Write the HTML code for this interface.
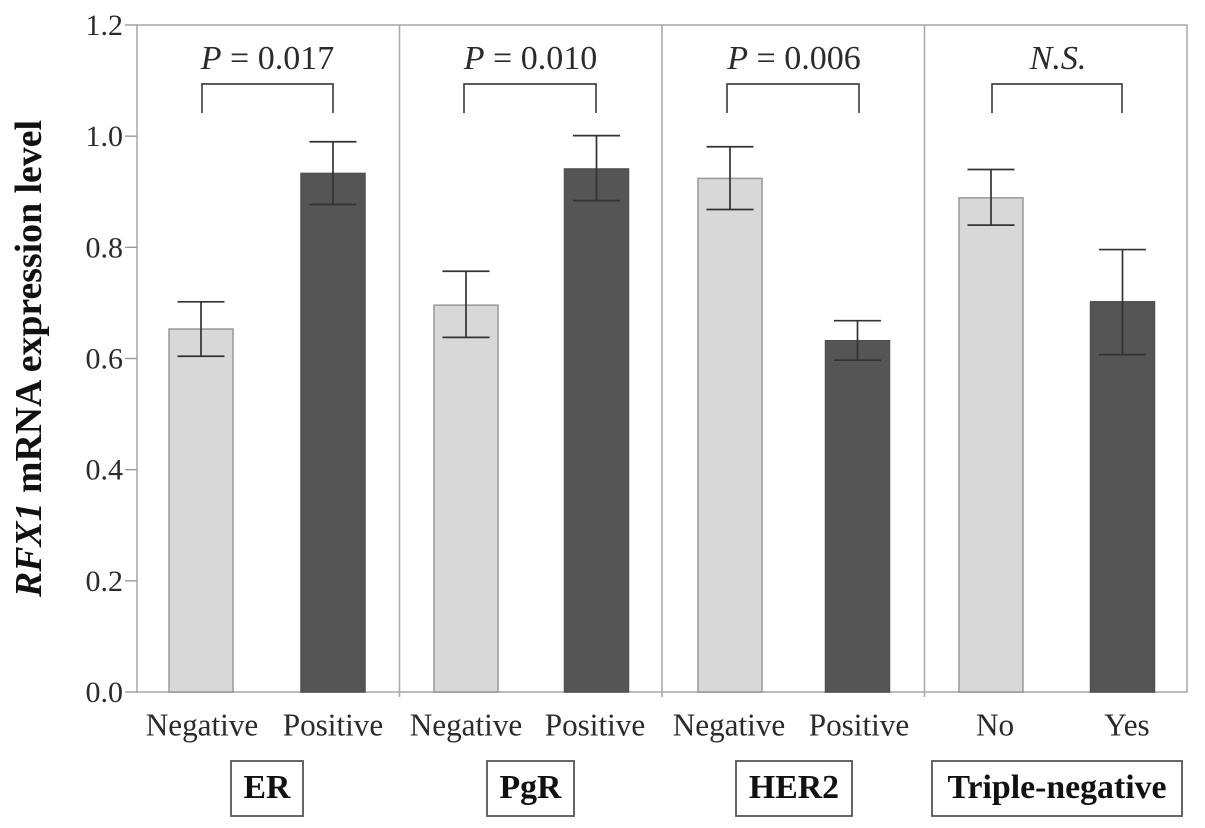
<!DOCTYPE html>
<html>
<head>
<meta charset="utf-8">
<title>RFX1 mRNA expression level</title>
<style>
html,body{margin:0;padding:0;background:#fff}
svg{display:block}
text{font-family:"Liberation Serif",serif;fill:#2b2b2b}
</style>
</head>
<body>
<svg id="chart" width="1205" height="828" viewBox="0 0 1205 828" xmlns="http://www.w3.org/2000/svg">
  <text style="fill:#111" transform="translate(41 358.5) rotate(-90)" text-anchor="middle" font-size="37.8" font-weight="bold"><tspan font-style="italic">RFX1</tspan> mRNA expression level</text>
</svg>
<script>
const categories = ['Negative','Positive','Negative','Positive','Negative','Positive','No','Yes'];
const means = [0.653,0.933,0.696,0.941,0.924,0.632,0.889,0.702];
const errLow = [0.604,0.877,0.638,0.884,0.868,0.597,0.840,0.607];
const errHigh = [0.702,0.990,0.757,1.001,0.981,0.668,0.940,0.796];
const barKinds = ['light','dark','light','dark','light','dark','light','dark'];
const yTicks = ['0.0','0.2','0.4','0.6','0.8','1.0','1.2'];
const groupNames = ['ER','PgR','HER2','Triple-negative'];
const groupPValues = ['0.017','0.010','0.006',null];

const NS = 'http://www.w3.org/2000/svg';
const svg = document.getElementById('chart');
const plot = {left:137, right:1187, top:25, bottom:692};
const yMax = 1.2;
const groupWidth = (plot.right - plot.left) / groupNames.length;
const barWidth = 64;
const capHalf = 23.5;
// layout within each group (offsets from the group's left edge, hand-placed in the source figure)
const layoutFor = [
  {bars:[64,196],     labels:[65,196],     bracket:[65,196],     sig:130.5, box:[94,166]},
  {bars:[66.5,197],   labels:[66.5,195.5], bracket:[64.5,196.5], sig:131,   box:[87.5,174.5]},
  {bars:[68,195.5],   labels:[67,197],     bracket:[65,197],     sig:132,   box:[74,190]},
  {bars:[66.5,198],   labels:[70.5,202.5], bracket:[67.5,197.5], sig:133.5, box:[7.5,257.5]}
];

function y(v){ return plot.bottom - (v / yMax) * (plot.bottom - plot.top); }
function groupLeft(g){ return plot.left + g * groupWidth; }
function x(i){
  const g = Math.floor(i / 2);
  return groupLeft(g) + layoutFor[g].bars[i % 2];
}
function labelX(i){
  const g = Math.floor(i / 2);
  return groupLeft(g) + layoutFor[g].labels[i % 2];
}
function mk(tag, attrs, txt){
  const e = document.createElementNS(NS, tag);
  for (const k in attrs) e.setAttribute(k, attrs[k]);
  if (txt !== undefined) e.textContent = txt;
  svg.appendChild(e);
  return e;
}

// plot frame
const frame = mk('rect',{x:plot.left,y:plot.top,width:plot.right-plot.left,height:plot.bottom-plot.top,fill:'none',stroke:'#ababab','stroke-width':1.6});



// group dividers
for (let g = 1; g < groupNames.length; g++){
  const px = groupLeft(g);
  const d = mk('line',{x1:px,x2:px,y1:plot.top,y2:plot.bottom+5,stroke:'#ababab','stroke-width':1.6});
  
  
}

// y ticks
yTicks.forEach(function(t){
  const v = parseFloat(t);
  const tick = mk('line',{x1:plot.left-12,x2:plot.left,y1:y(v),y2:y(v),stroke:'#999','stroke-width':1.4});
  
  
  const lab = mk('text',{x:plot.left-14,y:y(v)+10,'text-anchor':'end','font-size':30},t);
  
  
});

// bars, error bars, category labels
categories.forEach(function(c,i){
  const cx = x(i);
  const dark = barKinds[i] === 'dark';
  const bar = mk('rect',{x:cx-barWidth/2,y:y(means[i]),width:barWidth,height:plot.bottom-y(means[i]),fill:dark?'#555555':'#d8d8d8',stroke:dark?'#505050':'#999999','stroke-width':1.5});
  
  
  const stem = mk('line',{x1:cx,x2:cx,y1:y(errHigh[i]),y2:y(errLow[i]),stroke:'#333','stroke-width':1.7});
  
  
  const capHigh = mk('line',{x1:cx-capHalf,x2:cx+capHalf,y1:y(errHigh[i]),y2:y(errHigh[i]),stroke:'#333','stroke-width':1.7});
  
  
  const capLow = mk('line',{x1:cx-capHalf,x2:cx+capHalf,y1:y(errLow[i]),y2:y(errLow[i]),stroke:'#333','stroke-width':1.7});
  
  
  const lab = mk('text',{x:labelX(i),y:735.5,'text-anchor':'middle','font-size':31.2},c);
  
  
});

// significance brackets and labels
groupNames.forEach(function(name,g){
  const left = groupLeft(g);
  const lay = layoutFor[g];
  const x1 = left + lay.bracket[0], x2 = left + lay.bracket[1];
  const br = mk('path',{d:'M'+x1+' 113V84H'+x2+'V113',fill:'none',stroke:'#444','stroke-width':1.7});
  
  
  const t = mk('text',{x:left+lay.sig,y:69,'text-anchor':'middle','font-size':34});
  
  
  const p = groupPValues[g];
  const a = document.createElementNS(NS,'tspan');
  a.setAttribute('font-style','italic');
  a.textContent = p === null ? 'N.S.' : 'P';
  t.appendChild(a);
  if (p !== null){
    const b = document.createElementNS(NS,'tspan');
    b.textContent = ' = ' + p;
    t.appendChild(b);
  }
  const bx1 = left + lay.box[0], bx2 = left + lay.box[1];
  const box = mk('rect',{x:bx1,y:761,width:bx2-bx1,height:55,fill:'#fff',stroke:'#555','stroke-width':1.8});
  
  
  const n = mk('text',{x:(bx1+bx2)/2,y:798,'text-anchor':'middle','font-size':33.8,'font-weight':'bold'},name);
  
  
  n.style.fill = '#111';
});
</script>
</body>
</html>
